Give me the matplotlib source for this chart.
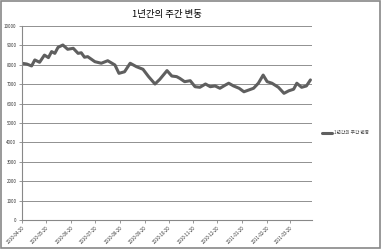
import numpy as np
import pandas as pd
import matplotlib
matplotlib.use("Agg")
from matplotlib import pyplot as plt
from matplotlib.patches import Rectangle

plt.rcParams['font.family'] = ['Noto Sans CJK KR', 'DejaVu Sans']

# 그림에서 읽은 값
dates = ["2010-04-20", "2010-04-26", "2010-05-02", "2010-05-06", "2010-05-12",
         "2010-05-18", "2010-05-23", "2010-05-27", "2010-05-31", "2010-06-04",
         "2010-06-10", "2010-06-16", "2010-06-23", "2010-06-29", "2010-07-03",
         "2010-07-07", "2010-07-11", "2010-07-20", "2010-07-28", "2010-08-05",
         "2010-08-14", "2010-08-19", "2010-08-26", "2010-09-02", "2010-09-10",
         "2010-09-18", "2010-09-25", "2010-10-03", "2010-10-09", "2010-10-18",
         "2010-10-24", "2010-10-30", "2010-11-03", "2010-11-09", "2010-11-16",
         "2010-11-22", "2010-11-28", "2010-12-05", "2010-12-11", "2010-12-17",
         "2010-12-23", "2010-12-30", "2011-01-03", "2011-01-09", "2011-01-16",
         "2011-01-22", "2011-01-28", "2011-02-03", "2011-02-09", "2011-02-15",
         "2011-02-20", "2011-02-26", "2011-03-06", "2011-03-13", "2011-03-19",
         "2011-03-25", "2011-03-29", "2011-04-04", "2011-04-10", "2011-04-15"]
values = [8077, 8040, 7940, 8250, 8130, 8500, 8370, 8680, 8590, 8900,
          9020, 8800, 8850, 8590, 8620, 8390, 8420, 8160, 8080, 8210,
          7990, 7560, 7640, 8080, 7900, 7770, 7390, 7010, 7250, 7700,
          7420, 7390, 7300, 7130, 7180, 6870, 6840, 7010, 6870, 6910,
          6790, 6960, 7050, 6910, 6790, 6610, 6700, 6790, 7050, 7470,
          7130, 7050, 6840, 6530, 6660, 6740, 7050, 6840, 6910, 7220]
series_name = "1년간의 주간 변동"
tick_dates = pd.date_range("2010-04-01", periods=12, freq="MS") + pd.Timedelta(days=19)
y_ticks = list(range(0, 10001, 1000))

fig = plt.figure(figsize=(3.81, 2.49), dpi=100)
ax = fig.add_axes([0.0577, 0.1165, 0.7613, 0.7791])

ax.plot(pd.to_datetime(dates), values, color="#5f5f5f", lw=2.2, label=series_name,
        solid_joinstyle="round", solid_capstyle="round")

ax.set_ylim(0, 10000)
ax.set_xlim(pd.Timestamp("2010-04-20"), pd.Timestamp("2011-04-17"))
ax.set_yticks(y_ticks)
ax.set_yticklabels([str(v) for v in y_ticks], fontsize=3.2, color="#333333")
ax.set_xticks(tick_dates)
ax.set_xticklabels([d.strftime("%Y-%m-%d") for d in tick_dates],
                   fontsize=3.2, rotation=45, ha="right", rotation_mode="anchor",
                   color="#333333")
ax.yaxis.grid(True, color="#909090", lw=0.7)
ax.set_axisbelow(True)
for s in ["top", "right"]:
    ax.spines[s].set_visible(False)
for s in ["left", "bottom"]:
    ax.spines[s].set_color("#888888")
    ax.spines[s].set_linewidth(0.8)
ax.tick_params(axis="both", length=2.5, width=0.6, color="#888888", pad=1.5)

ax.set_title(series_name, fontsize=6.8, pad=6.5)

leg = ax.legend(loc="center left", bbox_to_anchor=(1.02, 0.45), frameon=False,
                fontsize=3.4, handlelength=2.2, handletextpad=0.3)
for t in leg.get_texts():
    t.set_color("#444444")

fig.patches.append(Rectangle((0.002, 0.003), 0.995, 0.993, transform=fig.transFigure,
                             fill=False, edgecolor="#888888", lw=1.2))

fig.savefig("out.png", dpi=100)
